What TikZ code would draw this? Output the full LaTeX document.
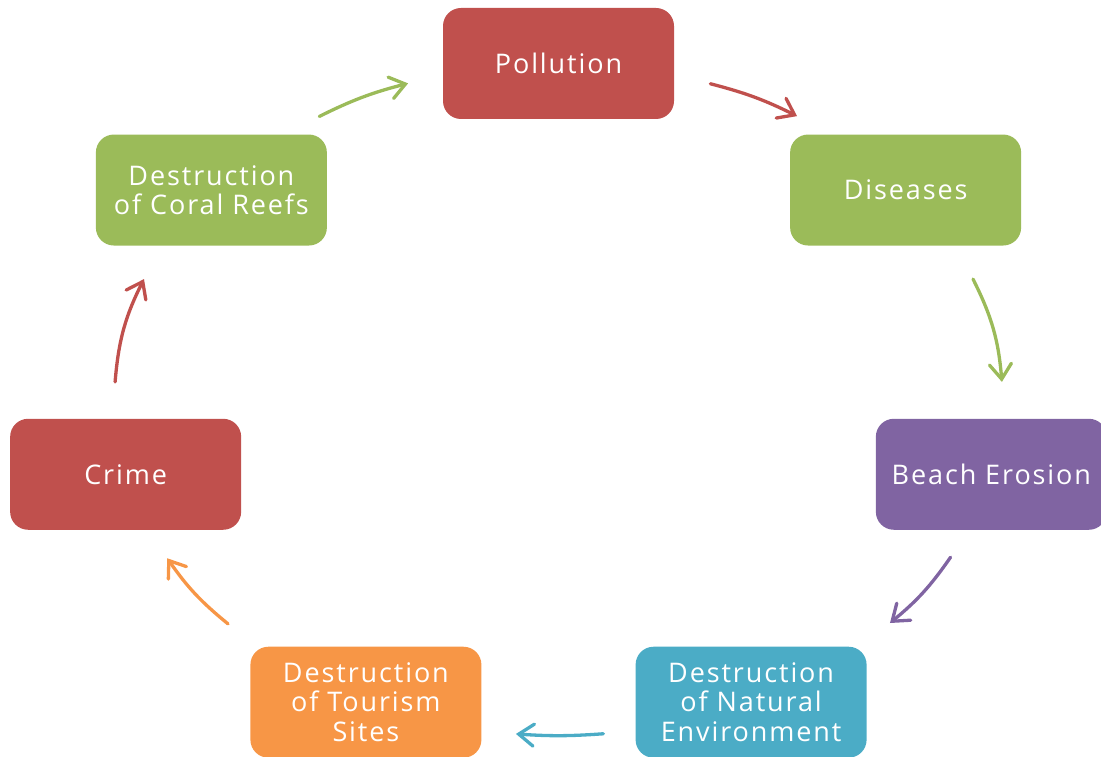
\documentclass[tikz,border=0pt]{standalone}
\usepackage{fontspec}
\setmainfont[LetterSpace=7]{Open Sans}
\usetikzlibrary{arrows.meta,calc}

\definecolor{cyclered}{HTML}{C0504D}
\definecolor{cyclegreen}{HTML}{9BBB59}
\definecolor{cyclepurple}{HTML}{8064A2}
\definecolor{cycleteal}{HTML}{4BACC6}
\definecolor{cycleorange}{HTML}{F79646}

\begin{document}
\begin{tikzpicture}[
  x=1pt, y=1pt,
  stage/.style={rectangle, rounded corners=18pt, minimum width=231pt, minimum height=111pt, inner sep=0pt, align=center, text=white, font=\fontsize{27}{29.5}\selectfont},
  flow/.style={line width=3.3pt, line cap=round, -{Straight Barb[length=15pt, width=22pt, line cap=round]}},
]
  \useasboundingbox (0,0) rectangle (1101,756);
  \coordinate (o) at (558.5,356.5);

  \node[stage, fill=cyclered] (s1) at ($(o)+(90:444pt and 336pt)$) {Pollution};
  \node[stage, fill=cyclegreen] (s2) at ($(o)+(38.57:444pt and 336pt)$) {Diseases};
  \node[stage, fill=cyclepurple] (s3) at ($(o)+(-12.86:444pt and 336pt)$) {Beach Erosion};
  \node[stage, fill=cycleteal] (s4) at ($(o)+(-64.29:444pt and 336pt)$) {Destruction\\of Natural\\Environment};
  \node[stage, fill=cycleorange] (s5) at ($(o)+(-115.71:444pt and 336pt)$) {Destruction\\of Tourism\\Sites};
  \node[stage, fill=cyclered] (s6) at ($(o)+(-167.14:444pt and 336pt)$) {Crime};
  \node[stage, fill=cyclegreen] (s7) at ($(o)+(141.43:444pt and 336pt)$) {Destruction\\of Coral Reefs};

  % arrow ends sit on the same ellipse as the boxes
  \coordinate (a1s) at ($(o)+(70:444pt and 336pt)$);
  \coordinate (a1e) at ($(o)+(57.5:444pt and 336pt)$);
  \coordinate (a2s) at ($(o)+(21:444pt and 336pt)$);
  \coordinate (a2e) at ($(o)+(3:444pt and 336pt)$);
  \coordinate (a3s) at ($(o)+(-28:444pt and 336pt)$);
  \coordinate (a3e) at ($(o)+(-41.7:444pt and 336pt)$);
  \coordinate (a4s) at ($(o)+(-84.2:444pt and 336pt)$);
  \coordinate (a4e) at ($(o)+(-95.5:444pt and 336pt)$);
  \coordinate (a5s) at ($(o)+(-138.1:444pt and 336pt)$);
  \coordinate (a5e) at ($(o)+(-151.8:444pt and 336pt)$);
  \coordinate (a6s) at ($(o)+(177:444pt and 336pt)$);
  \coordinate (a6e) at ($(o)+(159:444pt and 336pt)$);
  \coordinate (a7s) at ($(o)+(122.6:444pt and 336pt)$);
  \coordinate (a7e) at ($(o)+(109.8:444pt and 336pt)$);

  \draw[flow, cyclered] (a1s) to[bend left=6] (a1e);
  \draw[flow, cyclegreen] (a2s) to[bend left=11] (a2e);
  \draw[flow, cyclepurple] (a3s) to[bend left=8] (a3e);
  \draw[flow, cycleteal] (a4s) to[bend left=4] (a4e);
  \draw[flow, cycleorange] (a5s) to[bend left=8] (a5e);
  \draw[flow, cyclered] (a6s) to[bend left=11] (a6e);
  \draw[flow, cyclegreen] (a7s) to[bend left=6] (a7e);
\end{tikzpicture}
\end{document}
